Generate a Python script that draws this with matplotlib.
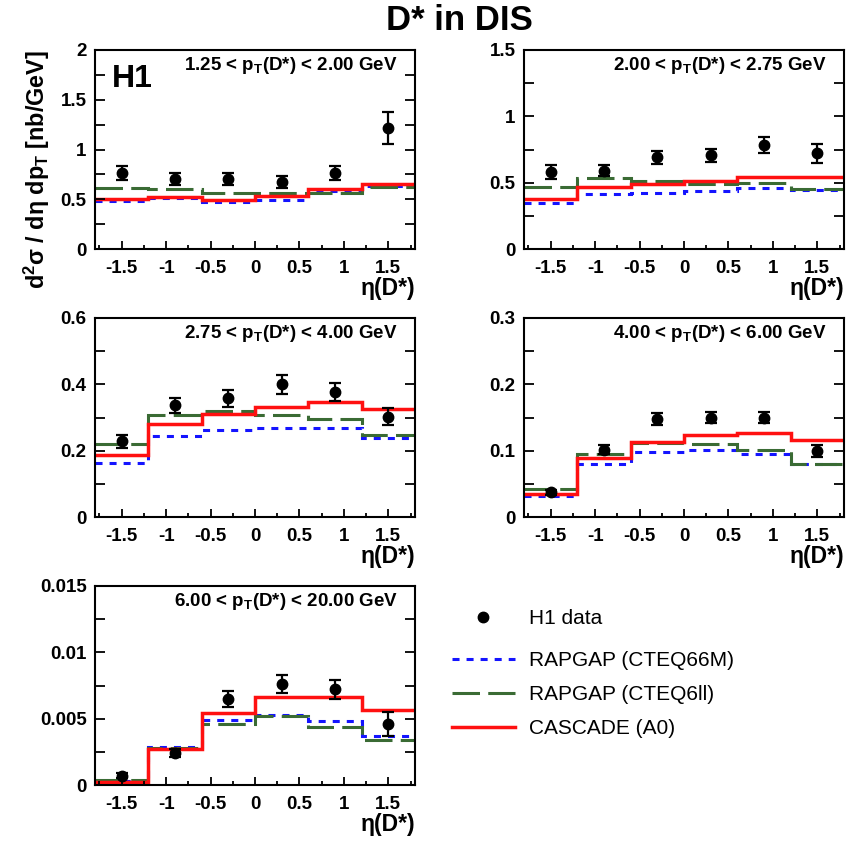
import numpy as np
import matplotlib
matplotlib.use('Agg')
import matplotlib.pyplot as plt
from matplotlib.lines import Line2D
from matplotlib.ticker import MultipleLocator, FuncFormatter

plt.rcParams['font.family'] = ['Liberation Sans', 'DejaVu Sans']
plt.rcParams['mathtext.fontset'] = 'custom'
plt.rcParams['mathtext.rm'] = 'Liberation Sans'
plt.rcParams['mathtext.bf'] = 'Liberation Sans:bold'
plt.rcParams['mathtext.default'] = 'bf'

ETA_EDGES = [-1.8, -1.2, -0.6, 0.0, 0.6, 1.2, 1.8]
ETA_CENTERS = [-1.5, -0.9, -0.3, 0.3, 0.9, 1.5]

PT_LABELS = [
    '1.25 < p$_{T}$(D*) < 2.00 GeV',
    '2.00 < p$_{T}$(D*) < 2.75 GeV',
    '2.75 < p$_{T}$(D*) < 4.00 GeV',
    '4.00 < p$_{T}$(D*) < 6.00 GeV',
    '6.00 < p$_{T}$(D*) < 20.00 GeV',
]

H1_DATA = [
    [0.763, 0.70, 0.70, 0.67, 0.76, 1.22],
    [0.58, 0.59, 0.69, 0.705, 0.785, 0.72],
    [0.228, 0.337, 0.358, 0.40, 0.377, 0.303],
    [0.037, 0.1015, 0.148, 0.150, 0.150, 0.099],
    [0.0007, 0.0024, 0.0065, 0.0076, 0.0072, 0.0046],
]
H1_ERR = [
    [0.07, 0.06, 0.06, 0.06, 0.07, 0.16],
    [0.05, 0.04, 0.05, 0.05, 0.06, 0.07],
    [0.02, 0.022, 0.025, 0.028, 0.026, 0.027],
    [0.004, 0.007, 0.009, 0.009, 0.009, 0.009],
    [0.0002, 0.0003, 0.0006, 0.0007, 0.0007, 0.0009],
]
RAPGAP_66M = [
    [0.48, 0.515, 0.475, 0.495, 0.58, 0.63],
    [0.345, 0.415, 0.42, 0.435, 0.46, 0.445],
    [0.163, 0.243, 0.261, 0.268, 0.268, 0.238],
    [0.032, 0.080, 0.0975, 0.1015, 0.095, 0.0805],
    [0.0003, 0.0029, 0.0049, 0.0053, 0.0048, 0.0037],
]
RAPGAP_6LL = [
    [0.615, 0.605, 0.56, 0.56, 0.56, 0.625],
    [0.47, 0.535, 0.515, 0.49, 0.50, 0.45],
    [0.221, 0.309, 0.32, 0.309, 0.295, 0.246],
    [0.0427, 0.0945, 0.112, 0.1105, 0.101, 0.0805],
    [0.0004, 0.0028, 0.0046, 0.0052, 0.0044, 0.0034],
]
CASCADE = [
    [0.50, 0.52, 0.49, 0.535, 0.605, 0.655],
    [0.38, 0.47, 0.49, 0.51, 0.545, 0.54],
    [0.187, 0.281, 0.31, 0.332, 0.347, 0.327],
    [0.035, 0.0895, 0.1125, 0.123, 0.1265, 0.116],
    [0.00025, 0.0027, 0.00545, 0.0066, 0.0066, 0.00565],
]

Y_MAX = [2.0, 1.5, 0.6, 0.3, 0.015]
Y_MAJOR = [0.5, 0.5, 0.2, 0.1, 0.005]
Y_MINOR = [0.25, 0.25, 0.1, 0.05, 0.0025]

BLUE = '#1414ff'
GREEN = '#3a6b34'
RED = '#ff1010'
LW = 2.2

W, H = 851, 843
# panel boxes in pixels: left, top
BOXES = [(95, 50), (524, 50), (95, 318), (524, 318), (95, 586)]
PW, PH = 320, 199


def fmt(v, pos):
    return '%g' % v


fig = plt.figure(figsize=(W / 100, H / 100), dpi=100)

for i, (lx, ty) in enumerate(BOXES):
    ax = fig.add_axes([lx / W, (H - ty - PH) / H, PW / W, PH / H])
    ax.stairs(RAPGAP_66M[i], ETA_EDGES, color=BLUE, lw=LW, linestyle=(0, (2.3, 2.3)), baseline=None)
    ax.stairs(RAPGAP_6LL[i], ETA_EDGES, color=GREEN, lw=LW, linestyle=(0, (9, 2.7)), baseline=None)
    ax.stairs(CASCADE[i], ETA_EDGES, color=RED, lw=LW + 0.3, baseline=None)
    ax.errorbar(ETA_CENTERS, H1_DATA[i], yerr=H1_ERR[i], fmt='o', color='black',
                ms=7.5, elinewidth=1.6, capsize=4, capthick=1.6, zorder=5)

    ax.set_xlim(-1.8, 1.8)
    ax.set_ylim(0, Y_MAX[i])
    ax.xaxis.set_major_locator(MultipleLocator(0.5))
    ax.xaxis.set_minor_locator(MultipleLocator(0.25))
    ax.yaxis.set_major_locator(MultipleLocator(Y_MAJOR[i]))
    ax.yaxis.set_minor_locator(MultipleLocator(Y_MINOR[i]))
    ax.xaxis.set_major_formatter(FuncFormatter(fmt))
    ax.yaxis.set_major_formatter(FuncFormatter(fmt))
    ax.tick_params(axis='x', which='major', direction='in', length=6, width=1.3, pad=8,
                   labelsize=13.5)
    ax.tick_params(axis='x', which='minor', direction='in', length=3, width=1.3)
    ax.tick_params(axis='y', which='both', direction='in', length=7, width=1.3, right=True,
                   labelsize=13.5, pad=6)
    for lab in ax.get_xticklabels() + ax.get_yticklabels():
        lab.set_fontweight('bold')
    for sp in ax.spines.values():
        sp.set_linewidth(1.5)

    ax.text(0.947, 0.90, PT_LABELS[i], transform=ax.transAxes, ha='right', va='baseline',
            fontsize=13.5, fontweight='bold')
    ax.text(1.0, -0.196, 'η(D*)', transform=ax.transAxes, ha='right', va='center',
            fontsize=16.5, fontweight='bold')

    if i == 0:
        ax.text(0.053, 0.854, 'H1', transform=ax.transAxes, ha='left', va='center',
                fontsize=23, fontweight='bold')
        h_data = Line2D([], [], marker='o', color='black', ms=7.5, linestyle='none')
        h_66m = Line2D([], [], color=BLUE, lw=LW, linestyle=(0, (2.3, 2.3)))
        h_6ll = Line2D([], [], color=GREEN, lw=LW, linestyle=(0, (9, 2.7)))
        h_cas = Line2D([], [], color=RED, lw=LW + 0.3)

fig.text(37 / W, (H - 50) / H, 'd$^{2}$σ / dη dp$_{T}$ [nb/GeV]', rotation=90,
         ha='center', va='top', fontsize=16.8, fontweight='bold')
fig.text(459 / W, (H - 30) / H, 'D* in DIS', ha='center', va='baseline',
         fontsize=25, fontweight='bold')

fig.legend([h_data], ['H1 data'], loc='center left', bbox_to_anchor=(452 / W, (H - 619) / H),
           frameon=False, fontsize=15, handlelength=3.0, handletextpad=0.7,
           borderpad=0, borderaxespad=0)
fig.legend([h_66m, h_6ll, h_cas], ['RAPGAP (CTEQ66M)', 'RAPGAP (CTEQ6ll)', 'CASCADE (A0)'],
           loc='center left', bbox_to_anchor=(452 / W, (H - 694.5) / H),
           frameon=False, fontsize=15, handlelength=3.0, handletextpad=0.7,
           labelspacing=0.72, borderpad=0, borderaxespad=0)

fig.savefig('out.png', dpi=100)
